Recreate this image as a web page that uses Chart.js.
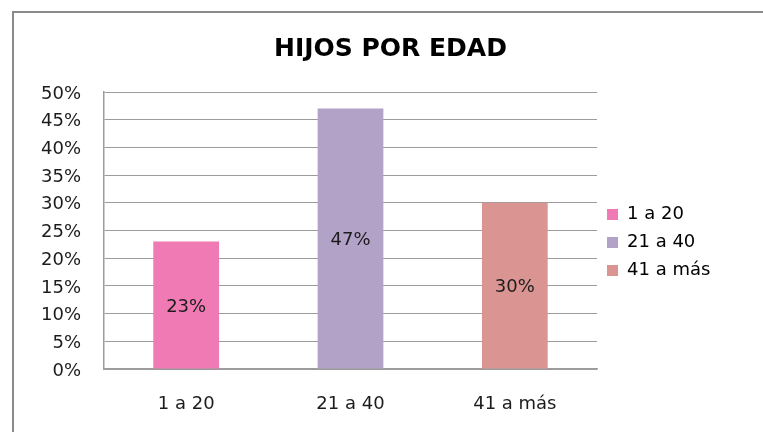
<!DOCTYPE html>
<html>
<head>
<meta charset="utf-8">
<script src="https://cdn.jsdelivr.net/npm/chart.js@4"></script>
<style>
    html, body { margin: 0; padding: 0; background: #fff; overflow: hidden; }
    #wrap { position: relative; width: 763px; height: 432px; }
    #frame {
        position: absolute; left: 12px; top: 11px; width: 820px; height: 500px;
        border-top: 2px solid #8a8a8a; border-left: 2px solid #8a8a8a;
    }
    canvas { position: absolute; left: 0; top: 0; }
</style>
</head>
<body>
<div id="wrap">
    <div id="frame"></div>
    <canvas id="chart" width="763" height="432"></canvas>
</div>
<script>
const categories = ['1 a 20', '21 a 40', '41 a más'];
const values = [23, 47, 30];
const barColors = ['#f07ab4', '#b3a2c8', '#da9593'];
const yMax = 50;
const yStep = 5;

const FONT = "'DejaVu Sans', sans-serif";
const TEXT = '#1c1c1c';
const GRID = '#9c9c9c';

// labels in the middle of each bar
const barLabels = {
    id: 'barLabels',
    afterDatasetsDraw(chart) {
        const ctx = chart.ctx;
        const meta = chart.getDatasetMeta(0);
        ctx.save();
        ctx.font = '18px ' + FONT;
        ctx.fillStyle = TEXT;
        ctx.textAlign = 'center';
        ctx.textBaseline = 'middle';
        meta.data.forEach((bar, i) => {
            const y = (bar.y + bar.base) / 2 + 2;
            ctx.fillText(values[i] + '%', bar.x, y);
        });
        ctx.restore();
    }
};

// legend box spans from the plot's right edge to the canvas edge,
// and sits a bit lower than chart.js centres it
const legendBox = {
    id: 'legendBox',
    afterInit(chart) {
        const fit = chart.legend.fit;
        chart.legend.fit = function () {
            fit.call(this);
            this.width = 166;
        };
    },
    afterLayout(chart) {
        chart.legend.top += 28;
        chart.legend.bottom += 28;
    }
};

new Chart(document.getElementById('chart'), {
    type: 'bar',
    data: {
        labels: categories,
        datasets: [{
            data: values,
            backgroundColor: barColors,
            borderWidth: 0,
            categoryPercentage: 1,
            barPercentage: 0.4
        }]
    },
    plugins: [barLabels, legendBox],
    options: {
        responsive: false,
        animation: false,
        layout: { padding: { left: 18, top: 12, right: 0, bottom: 15 } },
        plugins: {
            title: {
                display: true,
                text: 'HIJOS POR EDAD',
                color: '#000',
                font: { family: FONT, size: 25, weight: 'bold' },
                padding: { top: 22, bottom: 28 }
            },
            legend: {
                position: 'right',
                labels: {
                    boxWidth: 11,
                    boxHeight: 11,
                    padding: 10,
                    color: TEXT,
                    font: { family: FONT, size: 18 },
                    generateLabels: () => categories.map((c, i) => ({
                        text: c,
                        fillStyle: barColors[i],
                        strokeStyle: barColors[i],
                        lineWidth: 0,
                        index: i
                    }))
                }
            },
            tooltip: { enabled: false }
        },
        scales: {
            x: {
                grid: { display: false, drawTicks: false },
                border: { color: GRID, width: 1.5 },
                ticks: { color: TEXT, font: { family: FONT, size: 18 }, padding: 25 },
                afterFit: (scale) => { scale.height = 48; }
            },
            y: {
                min: 0,
                max: yMax,
                grid: { color: GRID, drawTicks: false },
                border: { color: GRID, width: 1.5 },
                ticks: {
                    stepSize: yStep,
                    color: TEXT,
                    font: { family: FONT, size: 18 },
                    padding: 23,
                    labelOffset: 2,
                    callback: (v) => v + '%'
                },
                afterFit: (scale) => { scale.width = 86; }
            }
        }
    }
});
</script>
</body>
</html>
